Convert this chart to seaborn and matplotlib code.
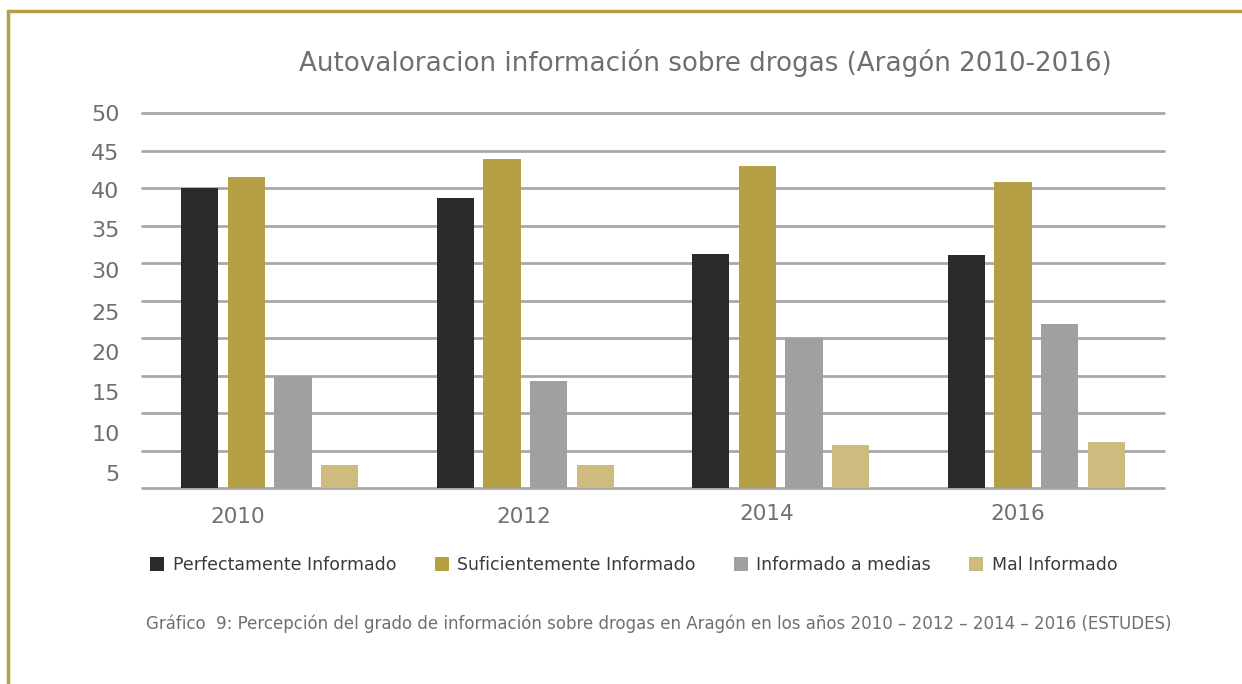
import matplotlib
matplotlib.use("Agg")
import matplotlib.pyplot as plt
import matplotlib.transforms as mtransforms
from matplotlib.lines import Line2D
from matplotlib.patches import Patch
import seaborn as sns
import pandas as pd

# ---- data ----
years = ["2010", "2012", "2014", "2016"]
categories = ["Perfectamente Informado", "Suficientemente Informado",
              "Informado a medias", "Mal Informado"]
perfectamente = [40.0, 38.7, 31.2, 31.1]
suficientemente = [41.5, 43.9, 42.9, 40.8]
a_medias = [14.9, 14.3, 20.0, 21.9]
mal = [3.1, 3.1, 5.7, 6.1]
ytick_labels = ["50", "45", "40", "35", "30", "25", "20", "15", "10", "5"]
title = "Autovaloracion información sobre drogas (Aragón 2010-2016)"
caption = ("Gráfico  9: Percepción del grado de información sobre drogas en Aragón "
           "en los años 2010 – 2012 – 2014 – 2016 (ESTUDES)")

series = [perfectamente, suficientemente, a_medias, mal]
rows = []
for cat, vals in zip(categories, series):
    for y, v in zip(years, vals):
        rows.append({"year": y, "category": cat, "value": v})
df = pd.DataFrame(rows)

# ---- style ----
colors = ["#2b2a28", "#b5a046", "#a0a09f", "#cdbc7e"]
text_color = "#6f6f6f"
grid_color = "#a8a8a8"
frame_color = "#b5a046"

sns.set_theme(style="white")
plt.rcParams["font.family"] = ["DejaVu Sans"]

fig = plt.figure(figsize=(12.42, 6.84), dpi=100)
ax = fig.add_axes([142/1242, 1-488/684, (1164-142)/1242, (488-113)/684])

sns.barplot(data=df, x="year", y="value", hue="category", hue_order=categories,
            palette=colors, width=0.73, gap=0.2, saturation=1, ax=ax,
            legend=False, zorder=3, errorbar=None, linewidth=0)

ax.set_ylim(0, 50)
ax.set_xlim(-0.5, len(years) - 0.5)
ax.yaxis.remove_overlapping_locs = False
# gridlines every 5
ax.set_yticks(range(0, 51, 5), minor=True)
ax.grid(which="minor", axis="y", color=grid_color, linewidth=2.0, zorder=0)
ax.grid(which="major", visible=False)
ax.set_axisbelow(True)
# labels placed as in the reference (slightly spread)
label_pos = [50, 44.8, 39.7, 34.5, 29.1, 23.5, 18.1, 12.8, 7.3, 2.0]
ax.set_yticks(label_pos)
ax.set_yticklabels(ytick_labels)
for t in ax.yaxis.get_minor_ticks():
    t.gridline.set_clip_on(False)
ax.tick_params(axis="y", which="both", length=0, pad=16, labelsize=16,
               labelcolor=text_color)
ax.tick_params(axis="x", length=0, pad=14, labelsize=15.5, labelcolor=text_color)
ax.set_xlabel("")
ax.set_ylabel("")
for s in ax.spines.values():
    s.set_visible(False)

# shift year labels like in the reference
shifts = [(-32, 0), (-2, 0), (-14, 3), (-19, 3)]
for lab, (dx, dy) in zip(ax.get_xticklabels(), shifts):
    lab.set_transform(lab.get_transform() +
                      mtransforms.ScaledTranslation(dx/100, dy/100, fig.dpi_scale_trans))

fig.text(705/1242, 1-63/684, title, ha="center", va="center",
         fontsize=18.8, color=text_color)

handles = [Patch(facecolor=c, edgecolor="none") for c in colors]
fig.legend(handles, categories, loc="center", bbox_to_anchor=(634/1242, 1-565/684),
           ncol=4, frameon=False, fontsize=12.5, handlelength=0.8, handleheight=0.8,
           handletextpad=0.5, columnspacing=2.2, labelcolor="#3a3a3a")

fig.text(146/1242, 1-624/684, caption, ha="left", va="center",
         fontsize=12, color=text_color)

# gold frame
fig.add_artist(Line2D([8/1242, 1], [1-11/684, 1-11/684], transform=fig.transFigure,
                      color=frame_color, linewidth=2.5))
fig.add_artist(Line2D([8/1242, 8/1242], [0, 1-11/684], transform=fig.transFigure,
                      color=frame_color, linewidth=2.5))

fig.savefig("out.png", dpi=100)
